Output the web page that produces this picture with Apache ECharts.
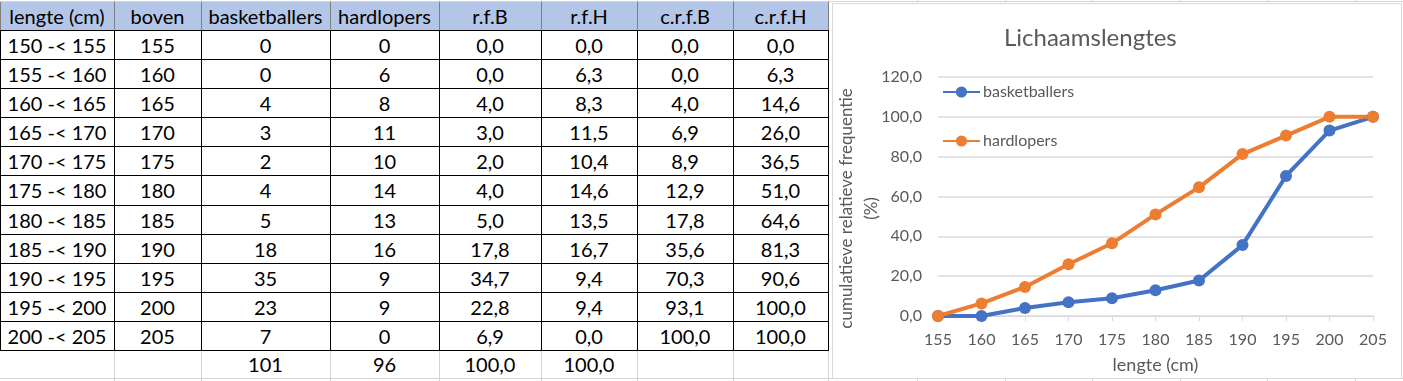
<!DOCTYPE html>
<html>
<head>
<meta charset="utf-8">
<script src="https://cdn.jsdelivr.net/npm/echarts@6/dist/echarts.min.js"></script>
<style>
html,body{margin:0;padding:0;background:#fff;}
#root{position:relative;width:1403px;height:381px;overflow:hidden;background:#fff;font-family:Lato,'Noto Sans',sans-serif;}
.cell{position:absolute;display:flex;align-items:center;justify-content:center;font-size:20px;color:#000;white-space:nowrap;}
.ln{position:absolute;}
#chart{position:absolute;left:832px;top:3px;width:570px;height:376px;box-sizing:border-box;border:1px solid #d9d9d9;background:#fff;}
</style>
</head>
<body>
<div id="root">
<div id="chart"></div>
</div>
<script>
// ---- data ----
var headers = ['lengte (cm)', 'boven', 'basketballers', 'hardlopers', 'r.f.B', 'r.f.H', 'c.r.f.B', 'c.r.f.H'];
var klassen = ['150 -< 155','155 -< 160','160 -< 165','165 -< 170','170 -< 175','175 -< 180','180 -< 185','185 -< 190','190 -< 195','195 -< 200','200 -< 205'];
var boven = ['155','160','165','170','175','180','185','190','195','200','205'];
var basketballers = [0, 0, 4, 3, 2, 4, 5, 18, 35, 23, 7];
var hardlopers = [0, 6, 8, 11, 10, 14, 13, 16, 9, 9, 0];
var rfB = [0.0, 0.0, 4.0, 3.0, 2.0, 4.0, 5.0, 17.8, 34.7, 22.8, 6.9];
var rfH = [0.0, 6.3, 8.3, 11.5, 10.4, 14.6, 13.5, 16.7, 9.4, 9.4, 0.0];
var crfB = [0.0, 0.0, 4.0, 6.9, 8.9, 12.9, 17.8, 35.6, 70.3, 93.1, 100.0];
var crfH = [0.0, 6.3, 14.6, 26.0, 36.5, 51.0, 64.6, 81.3, 90.6, 100.0, 100.0];
var totals = ['', '', '101', '96', '100,0', '100,0', '', ''];
var chartTitle = 'Lichaamslengtes';
var xAxisName = 'lengte (cm)';
var yAxisName = 'cumulatieve relatieve frequentie\n(%)';

function fmt(v){ return v.toFixed(1).replace('.', ','); }

// ---- table ----
var root = document.getElementById('root');
var chartEl = document.getElementById('chart');
var colX = [0,114,201,330,439,541,637,733,828];
var rowY = [2,30];
for (var i=1;i<=11;i++) rowY.push(30 + Math.round(i*320/11));
rowY.push(378);

function addCell(c,r,txt,bg){ var d=document.createElement('div'); d.className='cell'; d.style.left=colX[c]+'px'; d.style.top=rowY[r]+'px'; d.style.width=(colX[c+1]-colX[c])+'px'; d.style.height=(rowY[r+1]-rowY[r])+'px'; if(bg) d.style.background=bg; d.textContent=txt; root.insertBefore(d, chartEl); }
function line(x,y,w,h,c){ var d=document.createElement('div'); d.className='ln'; d.style.left=x+'px'; d.style.top=y+'px'; d.style.width=w+'px'; d.style.height=h+'px'; d.style.background=c; root.insertBefore(d, chartEl); }

var rows = [];
for (var i=0;i<11;i++) rows.push([klassen[i], boven[i], String(basketballers[i]), String(hardlopers[i]), fmt(rfB[i]), fmt(rfH[i]), fmt(crfB[i]), fmt(crfH[i])]);

for (var c=0;c<8;c++) addCell(c,0,headers[c],'#b4c6e7');
for (var r=0;r<11;r++) for (var c=0;c<8;c++) addCell(c,r+1,rows[r][c]);
for (var c=0;c<8;c++) addCell(c,12,totals[c]);

// sheet gridlines
line(0,1,1403,1,'#d4d4d4');
line(0,378,1403,1,'#d4d4d4');
var sheetCols = [114,201,330,439,541,637,733,828,917,1005,1092,1180,1267,1355];
sheetCols.forEach(function(x){ line(x,0,1,2,'#d4d4d4'); line(x,378,1,3,'#d4d4d4'); });
colX.forEach(function(x){ if(x>0) line(x,350,1,28,'#d4d4d4'); });
colX.forEach(function(x){ line(x,2,1,28,'#7f7f7f'); });
colX.forEach(function(x){ line(x,30,1,320,'#000'); });
for (var r=1;r<=12;r++) line(0,rowY[r],829,1,'#000');

// ---- chart ----
var chart = echarts.init(chartEl, null, {renderer:'canvas'});
var grey = '#595959';
chart.setOption({
  animation:false,
  title:{ text: chartTitle, left:166, top:17, textStyle:{ fontFamily:'Lato', fontSize:24, fontWeight:'normal', color:grey } },
  legend:{ orient:'vertical', left:104, top:75, itemWidth:37, itemHeight:14, itemGap:33,
    textStyle:{ fontFamily:'Lato', fontSize:16, color:grey, padding:[0,0,0,-2] }, data:['basketballers','hardlopers'] },
  grid:{ left:105, top:73, width:435, height:239, outerBoundsMode:'none', containLabel:false },
  xAxis:{ type:'category', boundaryGap:false, data:boven, name:xAxisName, nameLocation:'middle', nameGap:40, nameMoveOverlap:false,
    nameTextStyle:{ fontFamily:'Lato', fontSize:18, color:grey },
    axisLine:{ lineStyle:{ color:'#d9d9d9', width:1 } },
    axisTick:{ show:true, length:5, lineStyle:{ color:'#d9d9d9' } },
    axisLabel:{ fontFamily:'Lato', fontSize:16, color:grey, margin:16 } },
  yAxis:{ type:'value', min:0, max:120, interval:20, name:yAxisName, nameLocation:'middle', nameGap:54, nameMoveOverlap:false,
    nameTextStyle:{ fontFamily:'Lato', fontSize:17, color:grey, lineHeight:25, padding:[0,24,0,0] },
    axisLine:{ show:false }, axisTick:{ show:false },
    splitLine:{ lineStyle:{ color:'#d9d9d9', width:1.5 } },
    axisLabel:{ fontFamily:'Lato', fontSize:16, color:grey, margin:16, formatter:function(v){ return fmt(v); } } },
  series:[
    { name:'basketballers', type:'line', data:crfB, symbol:'circle', symbolSize:12,
      lineStyle:{ color:'#4472c4', width:4 }, itemStyle:{ color:'#4472c4' } },
    { name:'hardlopers', type:'line', data:crfH, symbol:'circle', symbolSize:12,
      lineStyle:{ color:'#ed7d31', width:4 }, itemStyle:{ color:'#ed7d31' } }
  ]
});
</script>
</body>
</html>
